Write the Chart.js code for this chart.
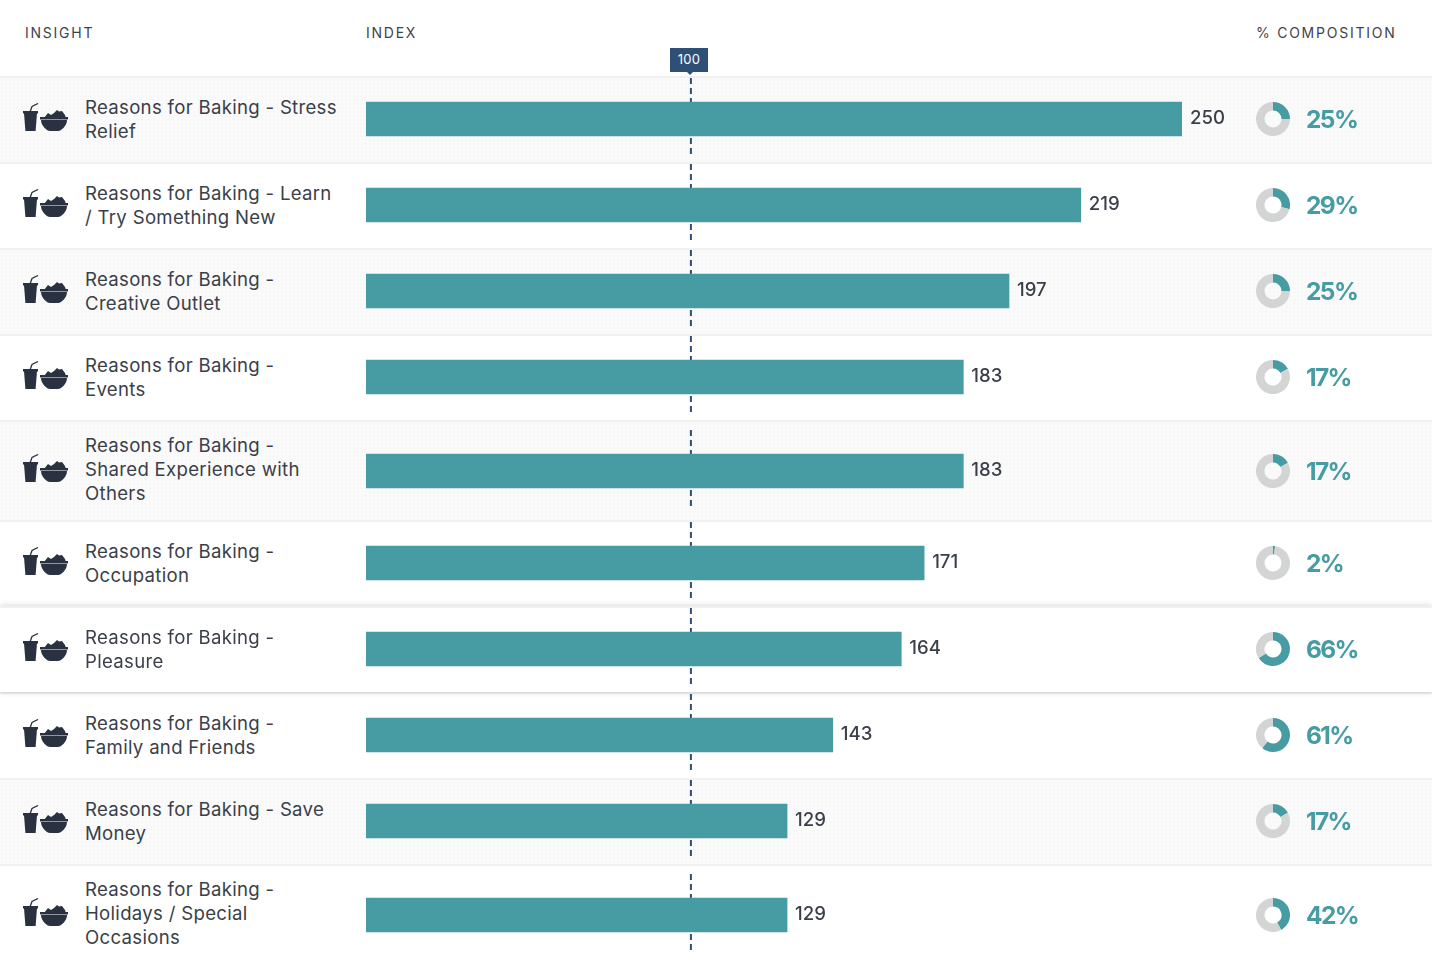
<!DOCTYPE html>
<html>
<head>
<meta charset="utf-8">
<title>Reasons for Baking</title>
<script src="https://cdn.jsdelivr.net/npm/chart.js@4"></script>
<style>
  html, body { margin: 0; padding: 0; background: #fff; }
  body { width: 1432px; height: 958px; overflow: hidden; position: relative;
    font-family: Inter, "Open Sans", sans-serif; color: #3a3f49; }
  .head { position: absolute; top: 24px; font-size: 14px; line-height: 17px; letter-spacing: 1.75px; color: #3f434c; }
  .tag { position: absolute; left: 670px; top: 48px; width: 38px; height: 24px; background: #2e5077; color: #fff;
    font-size: 13px; line-height: 22px; letter-spacing: 0.3px; text-align: center; z-index: 5; }
  .tag:after { content: ""; position: absolute; left: 17px; top: 24px; border: 3px solid transparent;
    border-top-color: #2e5077; border-bottom: 0; }
  #rows { position: absolute; left: 0; top: 76px; width: 1432px; }
  .row { position: relative; border-top: 2px solid #f1f1f1; box-sizing: border-box; background: #fff; }
  .row.shade { background-color: #fafafa;
    background-image: radial-gradient(#f7f7f7 1px, transparent 1px); background-size: 4px 4px; }
  .row.hot { box-shadow: 0 0 6px rgba(0,0,0,0.2); z-index: 2; }
  .icon { position: absolute; left: 23px; width: 46px; height: 30px; }
  .label { position: absolute; left: 85px; width: 270px; font-size: 18.6px; line-height: 24px; letter-spacing: 0.3px; white-space: nowrap; }
  .bar-wrap { position: absolute; left: 366px; top: -2px; }
  .pie-wrap { position: absolute; left: 1256px; }
  .pct { position: absolute; left: 1306px; font-size: 24.5px; line-height: 28px; font-weight: 700; letter-spacing: -1.6px; color: #479ca4; }
</style>
</head>
<body>
<div class="head" style="left:25px">INSIGHT</div>
<div class="head" style="left:366px">INDEX</div>
<div class="head" style="left:1256px">% COMPOSITION</div>
<div class="tag" id="tag"></div>
<div id="rows"></div>

<svg width="0" height="0" style="position:absolute">
  <symbol id="food" viewBox="0 0 46 30">
    <path d="M7 9 L9 3.5 L15 0.5" fill="none" stroke="#2a3140" stroke-width="1.3"/>
    <rect x="0" y="8" width="15" height="2.5" fill="#2a3140"/>
    <path d="M1 10 H14 L12.6 28 H2.4 Z" fill="#2a3140"/>
    <path d="M21 15 L25 10 L28 12 L31 10 L34 7 L36 8.5 L39 8 L42 12 L43 15 Z" fill="#2a3140"/>
    <rect x="17" y="14" width="28" height="2.5" fill="#2a3140"/>
    <path d="M18 17 H44 C44 23 38 28 35 28 H27 C24 28 18 23 18 17 Z" fill="#2a3140"/>
  </symbol>
</svg>

<script>
const insightLabels = [
  ["Reasons for Baking - Stress", "Relief"],
  ["Reasons for Baking - Learn", "/ Try Something New"],
  ["Reasons for Baking -", "Creative Outlet"],
  ["Reasons for Baking -", "Events"],
  ["Reasons for Baking -", "Shared Experience with", "Others"],
  ["Reasons for Baking -", "Occupation"],
  ["Reasons for Baking -", "Pleasure"],
  ["Reasons for Baking -", "Family and Friends"],
  ["Reasons for Baking - Save", "Money"],
  ["Reasons for Baking -", "Holidays / Special", "Occasions"],
];
const indexValues = [250, 219, 197, 183, 183, 171, 164, 143, 129, 129];
const compositionValues = [25, 29, 25, 17, 17, 2, 66, 61, 17, 42];
const shadedRows = [0, 2, 4, 8];
const hotRow = 6;
const referenceValue = 100;

const teal = "#479ca4";
const grey = "#d3d5d5";
const navy = "#2e5077";
const textColor = "#3a3f49";

document.getElementById("tag").textContent = referenceValue;

// dashed line at 100, it sits behind the bar and runs per row
const referenceLine = {
  id: "referenceLine",
  beforeDatasetsDraw(chart) {
    const c = chart.ctx;
    const x = chart.scales.x.getPixelForValue(referenceValue) - 1.5;
    const mid = chart.getDatasetMeta(0).data[0].y;
    c.save();
    c.strokeStyle = navy;
    c.lineWidth = 2;
    c.setLineDash([6, 4]);
    c.beginPath();
    c.moveTo(x, mid - 41);
    c.lineTo(x, mid + 35);
    c.stroke();
    c.restore();
  },
};

// number at the end of the bar
const valueLabel = {
  id: "valueLabel",
  afterDatasetsDraw(chart) {
    const c = chart.ctx;
    const bar = chart.getDatasetMeta(0).data[0];
    c.save();
    c.font = "500 18.6px Inter";
    c.fillStyle = textColor;
    c.textBaseline = "middle";
    c.fillText(chart.data.datasets[0].data[0], bar.x + 8, bar.y - 1);
    c.restore();
  },
};

const rowsEl = document.getElementById("rows");

insightLabels.forEach((lines, i) => {
  const threeLines = lines.length === 3;
  const rowHeight = threeLines ? 100 : 86;
  const mid = threeLines ? 51 : 43; // bar centre, from the top of the row

  const row = document.createElement("div");
  row.className = "row";
  if (shadedRows.includes(i)) row.classList.add("shade");
  if (i === hotRow) row.classList.add("hot");
  row.style.height = rowHeight + "px";

  const iconTop = (threeLines ? 50 : 43) - 15 - 2 - 1;
  row.innerHTML =
    '<svg class="icon" style="top:' + iconTop + 'px"><use href="#food"/></svg>' +
    '<div class="label" style="top:' + ((threeLines ? 13 : 19) - 2) + 'px">' + lines.join("<br>") + "</div>" +
    '<div class="bar-wrap"><canvas></canvas></div>' +
    '<div class="pie-wrap" style="top:' + (mid - 17 - 2) + 'px"><canvas></canvas></div>' +
    '<div class="pct" style="top:' + (mid - 14 - 2) + 'px">' + compositionValues[i] + "%</div>";
  rowsEl.appendChild(row);

  const barCanvas = row.querySelector(".bar-wrap canvas");
  barCanvas.width = 900;
  barCanvas.height = mid * 2;
  new Chart(barCanvas, {
    type: "bar",
    data: {
      labels: [lines.join(" ")],
      datasets: [
        {
          data: [indexValues[i]],
          backgroundColor: teal,
          borderWidth: 0,
          barThickness: 34,
        },
      ],
    },
    options: {
      indexAxis: "y",
      responsive: false,
      animation: false,
      layout: { padding: { right: 84 } },
      scales: {
        x: { display: false, min: 0, max: 250 },
        y: { display: false },
      },
      plugins: {
        legend: { display: false },
        tooltip: { enabled: false },
      },
    },
    plugins: [referenceLine, valueLabel],
  });

  const pieCanvas = row.querySelector(".pie-wrap canvas");
  pieCanvas.width = 34;
  pieCanvas.height = 34;
  new Chart(pieCanvas, {
    type: "doughnut",
    data: {
      labels: ["Composition", "Other"],
      datasets: [
        {
          data: [compositionValues[i], 100 - compositionValues[i]],
          backgroundColor: [teal, grey],
          borderWidth: 0,
        },
      ],
    },
    options: {
      responsive: false,
      animation: false,
      cutout: "50%",
      plugins: {
        legend: { display: false },
        tooltip: { enabled: false },
      },
    },
  });
});
</script>
</body>
</html>
